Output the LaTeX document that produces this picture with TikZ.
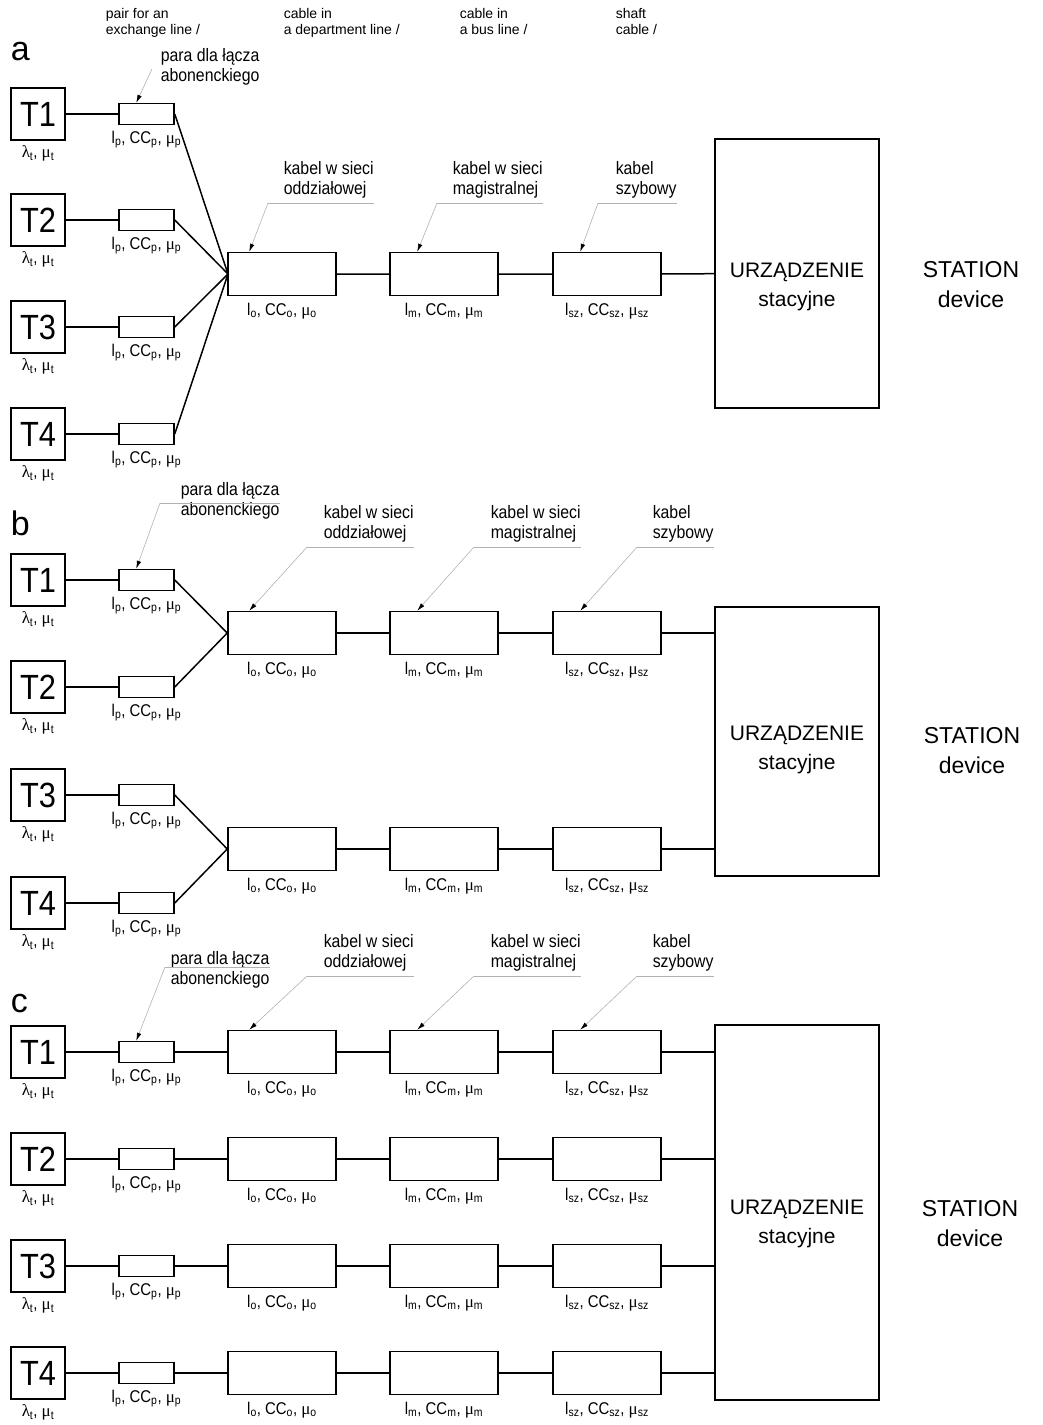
\documentclass[tikz,border=0pt]{standalone}
\usepackage{fontspec}
\setmainfont{Liberation Sans}
\newfontfamily\narrowfont{Liberation Sans}[FakeStretch=0.88]
\newfontfamily\greekfont{Liberation Serif}
\usetikzlibrary{calc,arrows.meta}
\newcommand{\gr}[1]{{\greekfont #1}}
\newcommand{\termlab}{\gr{λ}\textsubscript{t}, \gr{μ}\textsubscript{t}}
\newcommand{\cablab}[1]{l\textsubscript{#1}, CC\textsubscript{#1}, \gr{μ}\textsubscript{#1}}

\begin{document}
\begin{tikzpicture}[x=1pt,y=-1pt,line width=1.5pt,
  tbox/.style={draw,minimum width=54pt,minimum height=52pt,inner sep=0pt,
    font=\narrowfont\fontsize{35}{35}\selectfont},
  pbox/.style={draw,minimum width=55pt,minimum height=21pt,inner sep=0pt},
  cbox/.style={draw,minimum width=108pt,minimum height=43pt,inner sep=0pt},
  devbox/.style={draw,minimum width=164pt,inner sep=0pt},
  devtxt/.style={align=center,inner sep=0pt,anchor=base,font=\fontsize{21}{29}\selectfont},
  station/.style={align=center,inner sep=0pt,anchor=base,font=\fontsize{23}{30}\selectfont},
  lab/.style={inner sep=0pt,font=\narrowfont\fontsize{17}{17}\selectfont},
  note/.style={align=left,inner sep=0pt,anchor=base west,font=\narrowfont\fontsize{18}{20}\selectfont},
  head/.style={align=left,inner sep=0pt,anchor=base west,font=\fontsize{14}{16}\selectfont},
  letter/.style={inner sep=0pt,anchor=base west,font=\fontsize{34}{34}\selectfont},
  lead/.style={gray!60,line width=0.6pt},
  leadarr/.style={-{Latex[color=black,length=8pt,width=4.5pt]}}]
\useasboundingbox (0,0) rectangle (1042,1425);

% naglowek
\node[head] (h1) at (105,34) {pair for an\\exchange line /};
\node[head] (h2) at (283,34) {cable in\\a department line /};
\node[head] (h3) at (459,34) {cable in\\a bus line /};
\node[head] (h4) at (615,34) {shaft\\cable /};

% a
\node[letter] (la) at (10,60) {a};
\foreach \i/\y in {1/114,2/220,3/327,4/434}{
  \node[tbox] (aT\i) at (38,\y) {T\i};
  \node[lab,below=4pt] at (aT\i.south) {\termlab};
  \node[pbox] (aP\i) at (146.5,\y) {};
  \node[lab,below=5pt] at (aP\i.south) {\cablab{p}};
  \draw (aT\i) -- (aP\i);
  \draw (aP\i.east) -- (282-54,274);
}
\node[cbox] (aO) at (282,274) {};
\node[cbox] (aM) at (444,274) {};
\node[cbox] (aS) at (607,274) {};
\node[devbox,minimum height=269pt] (aD) at (797,273.5) {};
\foreach \n/\s in {O/o,M/m,S/sz}
  \node[lab,below=6pt] at (a\n.south) {\cablab{\s}};
\draw (aO) -- (aM) -- (aS) -- (aD);
\node[devtxt] at (797,306) {URZĄDZENIE\\stacyjne};
\node[station] at (971,307) {STATION\\device};
\node[note] (aNp) at (160,81) {para dla łącza\\abonenckiego};
\coordinate (aUp) at (152,69);
\draw[lead,leadarr] (aUp) -- ([xshift=18pt]aP1.north west);
\node[note] (aNo) at (283,194) {kabel w sieci\\oddziałowej};
\node[note] (aNm) at (452,194) {kabel w sieci\\magistralnej};
\node[note] (aNs) at (615,194) {kabel\\szybowy};
\coordinate (aUo) at (268,203);
\coordinate (aUm) at (437,203);
\coordinate (aUs) at (598,203);
\draw[lead] (aUo) -- (aUo -| aNo.east);
\draw[lead] (aUm) -- (aUm -| aNm.east);
\draw[lead] (aUs) -- (aUs -| aNs.east);
\draw[lead,leadarr] (aUo) -- ([xshift=22pt]aO.north west);
\draw[lead,leadarr] (aUm) -- ([xshift=28pt]aM.north west);
\draw[lead,leadarr] (aUs) -- ([xshift=28pt]aS.north west);

% b
\node[letter] (lb) at (10,535) {b};
\foreach \i/\y in {1/580,2/687,3/795,4/903}{
  \node[tbox] (bT\i) at (38,\y) {T\i};
  \node[lab,below=4pt] at (bT\i.south) {\termlab};
  \node[pbox] (bP\i) at (146.5,\y) {};
  \node[lab,below=5pt] at (bP\i.south) {\cablab{p}};
  \draw (bT\i) -- (bP\i);
}
\node[devbox,minimum height=269pt] (bD) at (797,741.5) {};
\foreach \k/\y in {1/633,2/849}{
  \node[cbox] (bO\k) at (282,\y) {};
  \node[cbox] (bM\k) at (444,\y) {};
  \node[cbox] (bS\k) at (607,\y) {};
  \node[lab,below=6pt] at (bO\k.south) {\cablab{o}};
  \node[lab,below=6pt] at (bM\k.south) {\cablab{m}};
  \node[lab,below=6pt] at (bS\k.south) {\cablab{sz}};
  \draw (bO\k) -- (bM\k) -- (bS\k) -- (bS\k.east -| bD.west);
}
\draw (bP1.east) -- (bO1.west);
\draw (bP2.east) -- (bO1.west);
\draw (bP3.east) -- (bO2.west);
\draw (bP4.east) -- (bO2.west);
\node[devtxt] at (797,769) {URZĄDZENIE\\stacyjne};
\node[station] at (972,773) {STATION\\device};
\node[note] (bNp) at (180,515) {para dla łącza\\abonenckiego};
\coordinate (bUp) at (160,503);
\draw[lead] (bUp) -- (bUp -| bNp.east);
\draw[lead,leadarr] (bUp) -- ([xshift=18pt]bP1.north west);
\node[note] (bNo) at (323,538) {kabel w sieci\\oddziałowej};
\node[note] (bNm) at (490,538) {kabel w sieci\\magistralnej};
\node[note] (bNs) at (652,538) {kabel\\szybowy};
\coordinate (bUo) at (307,547);
\coordinate (bUm) at (474,547);
\coordinate (bUs) at (637,547);
\draw[lead] (bUo) -- (bUo -| bNo.east);
\draw[lead] (bUm) -- (bUm -| bNm.east);
\draw[lead] (bUs) -- (bUs -| bNs.east);
\draw[lead,leadarr] (bUo) -- ([xshift=22pt]bO1.north west);
\draw[lead,leadarr] (bUm) -- ([xshift=28pt]bM1.north west);
\draw[lead,leadarr] (bUs) -- ([xshift=28pt]bS1.north west);

% c
\node[letter] (lc) at (10,1012) {c};
\node[devbox,minimum height=375pt] (cD) at (797,1212.5) {};
\foreach \i/\y in {1/1052,2/1159,3/1266,4/1373}{
  \node[tbox] (cT\i) at (38,\y) {T\i};
  \node[lab,below=4pt] at (cT\i.south) {\termlab};
  \node[pbox] (cP\i) at (146.5,\y) {};
  \node[lab,below=5pt] at (cP\i.south) {\cablab{p}};
  \node[cbox] (cO\i) at (282,\y) {};
  \node[cbox] (cM\i) at (444,\y) {};
  \node[cbox] (cS\i) at (607,\y) {};
  \node[lab,below=6pt] at (cO\i.south) {\cablab{o}};
  \node[lab,below=6pt] at (cM\i.south) {\cablab{m}};
  \node[lab,below=6pt] at (cS\i.south) {\cablab{sz}};
  \draw (cT\i) -- (cP\i) -- (cO\i) -- (cM\i) -- (cS\i) -- (cS\i.east -| cD.west);
}
\node[devtxt] at (797,1243) {URZĄDZENIE\\stacyjne};
\node[station] at (970,1246) {STATION\\device};
\node[note] (cNp) at (170,984) {para dla łącza\\abonenckiego};
\coordinate (cUp) at (165,967);
\draw[lead] (cUp) -- (cUp -| cNp.east);
\draw[lead,leadarr] (cUp) -- ([xshift=18pt]cP1.north west);
\node[note] (cNo) at (323,967) {kabel w sieci\\oddziałowej};
\node[note] (cNm) at (490,967) {kabel w sieci\\magistralnej};
\node[note] (cNs) at (652,967) {kabel\\szybowy};
\coordinate (cUo) at (307,976);
\coordinate (cUm) at (474,976);
\coordinate (cUs) at (637,976);
\draw[lead] (cUo) -- (cUo -| cNo.east);
\draw[lead] (cUm) -- (cUm -| cNm.east);
\draw[lead] (cUs) -- (cUs -| cNs.east);
\draw[lead,leadarr] (cUo) -- ([xshift=22pt]cO1.north west);
\draw[lead,leadarr] (cUm) -- ([xshift=28pt]cM1.north west);
\draw[lead,leadarr] (cUs) -- ([xshift=28pt]cS1.north west);
\end{tikzpicture}
\end{document}
